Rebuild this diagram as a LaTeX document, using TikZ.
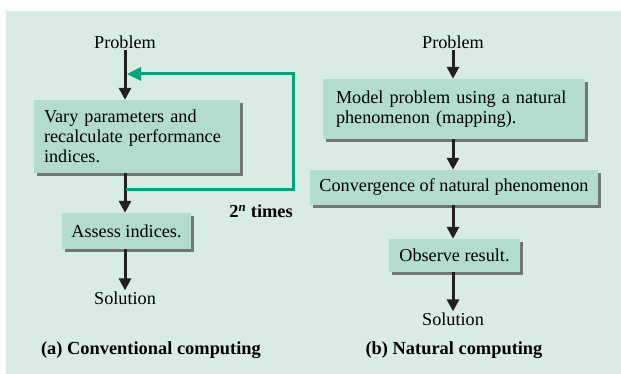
\documentclass[tikz,border=0pt]{standalone}
\usepackage{fontspec}
\setmainfont{Liberation Serif}
\usetikzlibrary{arrows.meta,shadows}
\definecolor{panelbg}{HTML}{D8ECE4}
\definecolor{boxfill}{HTML}{B2DCCE}
\definecolor{loopgreen}{HTML}{00A47C}
\definecolor{arrowblack}{HTML}{231F20}
\tikzset{
  procbox/.style={fill=boxfill, inner sep=0pt, font=\fontsize{18.2}{20}\selectfont,
    drop shadow={shadow xshift=3pt, shadow yshift=-3pt, fill=black!65, opacity=0.8}},
  plain/.style={font=\fontsize{18.2}{20}\selectfont, inner sep=1pt},
  caption/.style={font=\fontsize{18.4}{20}\selectfont\bfseries, inner sep=1pt},
  flow/.style={draw=arrowblack, line width=3pt, -{Triangle[length=12pt,width=12pt]}},
  loop/.style={draw=loopgreen, line width=3pt},
}
\begin{document}
\begin{tikzpicture}[x=1pt,y=-1pt]
\useasboundingbox (0,0) rectangle (621,374);
\fill[panelbg] (6,11) rectangle (621,374);

% (a) Conventional computing
\node[plain] (pa) at (125,42) {Problem};
\node[procbox, minimum width=206pt, minimum height=73pt, text width=186pt, align=left] (vary) at (137,136.5)
  {Vary parameters and\\recalculate performance\\indices.};
\node[procbox, minimum width=129pt, minimum height=36pt, align=center] (assess) at (126.5,231) {Assess indices.};
\node[plain] (sa) at (125,298) {Solution};
\node[caption] (capa) at (151,350) {(a) Conventional computing};
\node[caption, anchor=east] (times) at (294,211) {2\textsuperscript{\textit{n}} times};

\coordinate (xa) at (125,0);
\draw[flow] (pa.south -| xa) -- (vary.north -| xa);
\draw[flow] (vary.south -| xa) -- (assess.north -| xa);
\draw[flow] (assess.south -| xa) -- (sa.north -| xa);

\coordinate (lstart) at (126,190);
\coordinate (lcornerA) at (293,190);
\coordinate (lcornerB) at (293,74);
\coordinate (lend) at (127,74);
\draw[loop] (lstart) -- (lcornerA) -- (lcornerB) -- (lcornerB -| 142,0);
\draw[loop, -{Triangle[length=14pt,width=13pt]}] (lcornerB -| 143,0) -- (lend);

% (b) Natural computing
\node[plain] (pb) at (453,42) {Problem};
\node[procbox, minimum width=262pt, minimum height=60pt, text width=236pt, align=left] (model) at (454,109)
  {Model problem using a natural\\phenomenon (mapping).};
\node[procbox, minimum width=288pt, minimum height=35pt, align=center] (conv) at (454,187.5) {Convergence of natural phenomenon};
\node[procbox, minimum width=131pt, minimum height=33pt, align=center] (obs) at (454.5,255.5) {Observe result.};
\node[plain] (sb) at (453,319) {Solution};
\node[caption] (capb) at (454,350) {(b) Natural computing};

\draw[flow] (pb.south) -- (model.north -| pb.south);
\draw[flow] (model.south -| pb.south) -- (conv.north -| pb.south);
\draw[flow] (conv.south -| pb.south) -- (obs.north -| pb.south);
\draw[flow] (obs.south -| pb.south) -- (sb.north);
\end{tikzpicture}
\end{document}
